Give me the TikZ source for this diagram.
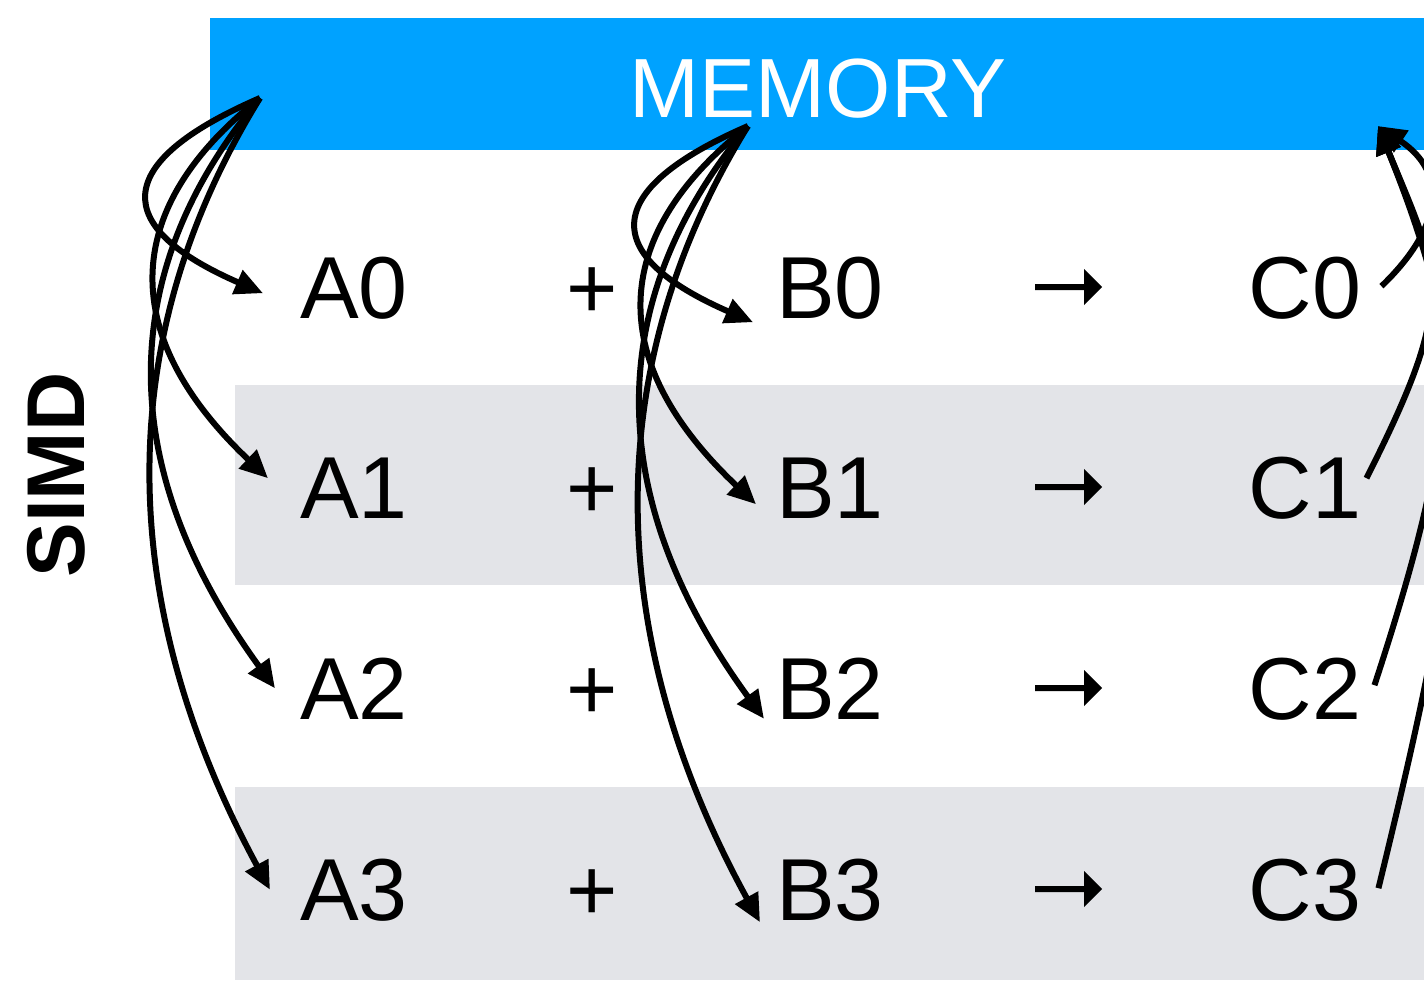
\documentclass[tikz,border=0pt]{standalone}
\usepackage{fontspec}
\setmainfont{Liberation Sans}
\usetikzlibrary{arrows.meta,calc,shapes.arrows}
\definecolor{membar}{HTML}{00A2FF}
\definecolor{band}{HTML}{E3E4E8}

\begin{document}
\begin{tikzpicture}[x=1pt,y=-1pt,
  lbl/.style={inner sep=0pt, anchor=base, font=\fontsize{88}{88}\selectfont},
  yields/.style={single arrow, fill=black, draw=none, inner xsep=0pt, inner ysep=2.8pt,
    minimum height=67pt, single arrow head extend=15pt},
  link/.style={line width=6pt, -{Triangle[length=28pt,width=25pt]}},
]
% canvas and background bands
\clip (0,0) rectangle (1424,980);
\fill[white] (0,0) rectangle (1424,980);
\fill[membar] (210,18) rectangle (1424,150);
\fill[band] (235,385) rectangle (1424,585);
\fill[band] (235,787) rectangle (1424,980);

\node[inner sep=0pt, anchor=base, text=white, font=\fontsize{84}{84}\selectfont] (mem) at (818,117) {MEMORY};
\node[inner sep=0pt, rotate=90, font=\bfseries\fontsize{82}{82}\selectfont] (simd) at (56,475) {SIMD};

% the four lanes
\foreach \i/\y in {0/318,1/518,2/719,3/920}{
  \node[lbl] (a\i) at (354,\y) {A\i};
  \node[lbl] (p\i) at (592,\y) {+};
  \node[lbl] (b\i) at (830,\y) {B\i};
  \node[yields] (r\i) at (1067,\y-31) {};
  \node[lbl] (c\i) at (1305,\y) {C\i};
}

% load/store points in memory
\coordinate (srcA) at (260,98);
\coordinate (srcB) at (748,126);
\coordinate (dstC) at (1378,126);

% loads of A
\draw[link] (srcA) .. controls (110,163) and (111,227) .. ([xshift=-37pt,yshift=-5.5pt]a0.west);
\draw[link] (srcA) .. controls (117,211) and (120,338) .. ([xshift=-32pt,yshift=9.5pt]a1.west);
\draw[link] (srcA) .. controls (112,275) and (117,471) .. ([xshift=-25pt]a2.west);
\draw[link] (srcA) .. controls (111,339) and (115,603) .. ([xshift=-30pt]a3.west);

% loads of B
\draw[link] (srcB) .. controls (598,191) and (601,256) .. ([xshift=-23pt,yshift=-34.5pt]b0.west);
\draw[link] (srcB) .. controls (605,239) and (608,364) .. ([xshift=-20pt,yshift=-16.5pt]b1.west);
\draw[link] (srcB) .. controls (600,303) and (605,501) .. ([xshift=-12pt,yshift=-30.5pt]b2.west);
\draw[link] (srcB) .. controls (599,367) and (603,636) .. ([xshift=-16pt,yshift=-32.5pt]b3.west);

% stores of C
\draw[link] ([xshift=20pt,yshift=1.5pt]c0.east) .. controls (1441,229) and (1450,174) .. (dstC);
\draw[link] ([xshift=5pt,yshift=9.5pt]c1.east) .. controls (1459,295) and (1440,277) .. (dstC);
\draw[link] ([xshift=13pt,yshift=3.5pt]c2.east) .. controls (1474,382) and (1455,315) .. (dstC);
\draw[link] ([xshift=17pt,yshift=1.5pt]c3.east) .. controls (1470,513) and (1485,391) .. (dstC);
\end{tikzpicture}
\end{document}
